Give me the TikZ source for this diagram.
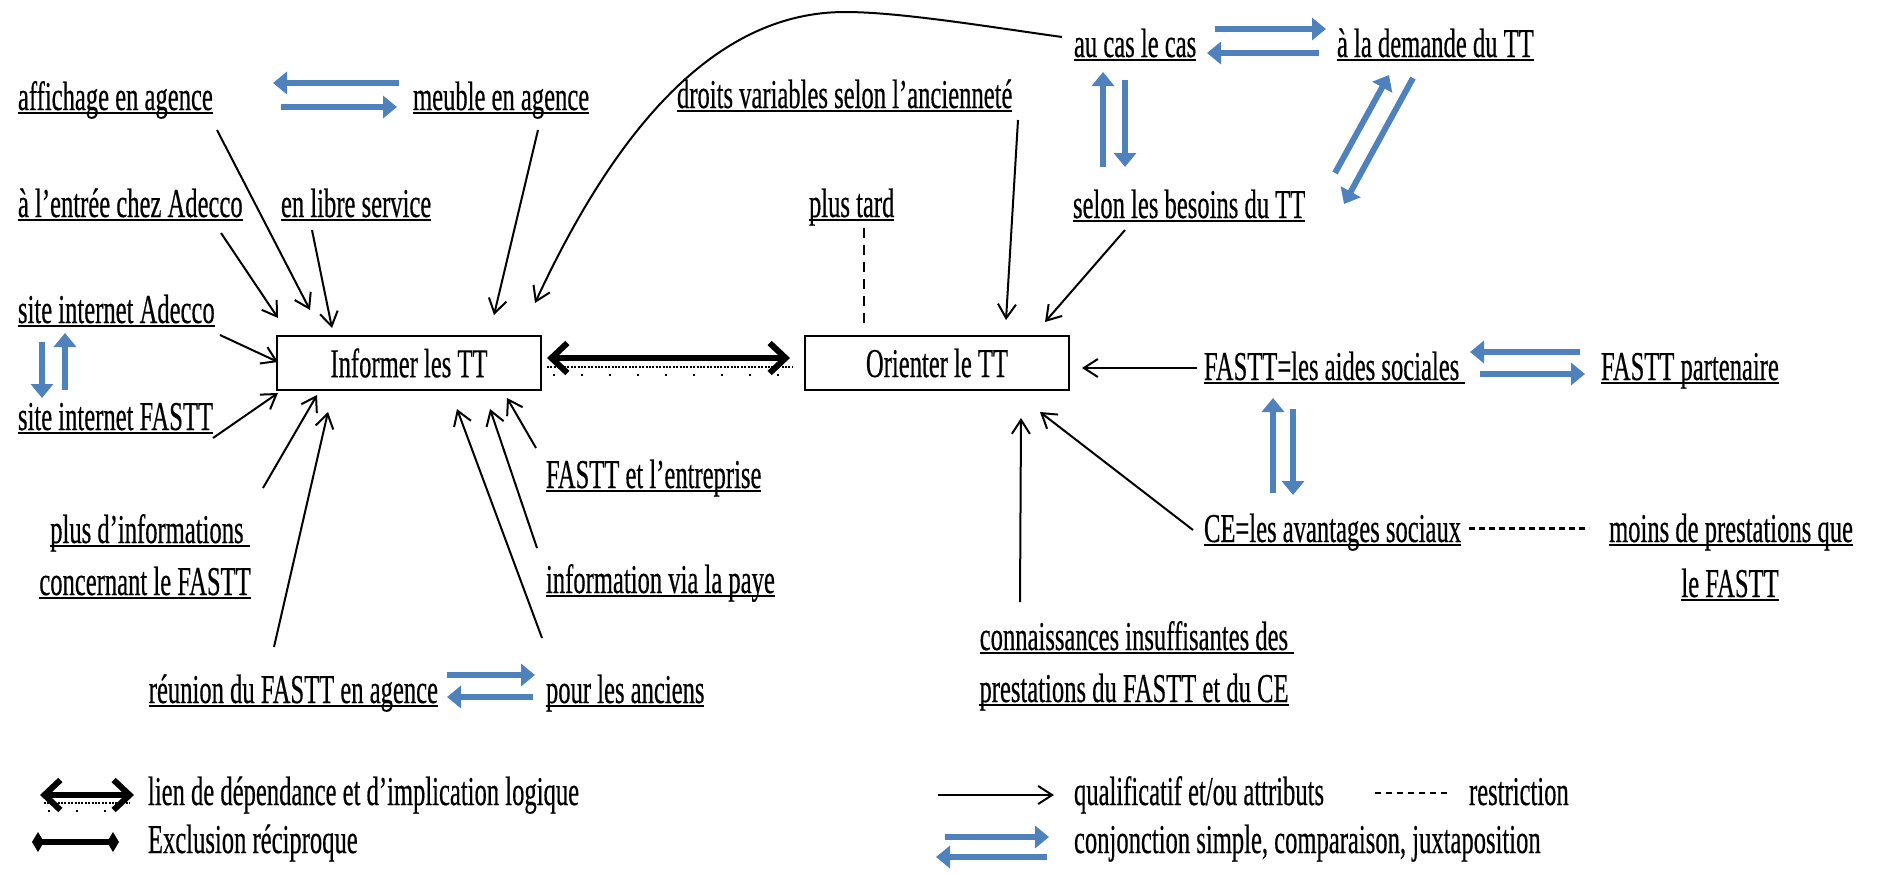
\documentclass[tikz,border=0pt]{standalone}
\usepackage{fontspec}
\setmainfont{Liberation Serif}[FakeStretch=0.6, FakeBold=0.4]
\usetikzlibrary{arrows.meta}
\definecolor{conjblue}{RGB}{79,129,189}
\newcommand{\lblfont}{\fontsize{20.5}{24}\selectfont}
\newcommand{\ulin}[1]{\setbox0=\hbox{#1}\rlap{\rule[-2.2pt]{\wd0}{1.2pt}}\box0}
\tikzset{
  lbl/.style={inner sep=0pt, outer sep=0pt, anchor=base west, font=\lblfont},
  lblc/.style={inner sep=0pt, outer sep=0pt, anchor=base, font=\lblfont},
  lble/.style={inner sep=0pt, outer sep=0pt, anchor=base east, font=\lblfont},
  box/.style={draw, line width=1.2pt, minimum width=132pt, minimum height=27pt, inner sep=0pt, outer sep=0pt, font=\lblfont},
  qual/.style={line width=1pt, -{Straight Barb[length=7pt,width=9pt]}},
  conj/.style={draw=conjblue, line width=3pt, -{Triangle[length=7pt,width=11pt]}},
  restr/.style={line width=0.9pt, dash pattern=on 5pt off 3.5pt},
  restrdot/.style={line width=1.5pt, dash pattern=on 3pt off 2pt},
  dep/.style={line width=3pt, {Straight Barb[length=8pt,width=15pt]}-{Straight Barb[length=8pt,width=15pt]}},
  depdots/.style={line width=1.4pt, dash pattern=on 1pt off 0.7pt},
  deploose/.style={line width=1.2pt, dash pattern=on 1pt off 13pt},
  excl/.style={line width=3pt, {Diamond[length=6pt,width=10pt]}-{Diamond[length=6pt,width=10pt]}},
}
\begin{document}
\begin{tikzpicture}[x=0.5pt,y=-0.5pt]
\useasboundingbox (0,0) rectangle (1878,873);

% ---- nodes ----
\node[lbl] (aff) at (18,110) {\ulin{affichage en agence}};
\node[lbl] (meu) at (413,110) {\ulin{meuble en agence}};
\node[lbl] (dro) at (677,108) {\ulin{droits variables selon l'ancienneté}};
\node[lbl] (auc) at (1074,57) {\ulin{au cas le cas}};
\node[lbl] (dem) at (1337,57) {\ulin{à la demande du TT}};
\node[lbl] (ent) at (18,217) {\ulin{à l'entrée chez Adecco}};
\node[lbl] (lib) at (281,217) {\ulin{en libre service}};
\node[lbl] (tard) at (809,217) {\ulin{plus tard}};
\node[lbl] (bes) at (1073,218) {\ulin{selon les besoins du TT}};
\node[lbl] (sia) at (18,323) {\ulin{site internet Adecco}};
\node[lbl] (sif) at (18,430) {\ulin{site internet FASTT}};
\node[box] (inf) at (409,363) {Informer les TT};
\node[box] (ori) at (937,363) {Orienter le TT};
\node[lbl] (aid) at (1204,380) {\ulin{FASTT=les aides sociales\ }};
\node[lbl] (par) at (1601,380) {\ulin{FASTT partenaire}};
\node[lbl] (ce) at (1204,542) {\ulin{CE=les avantages sociaux}};
\node[lblc] (moiA) at (1731,542) {\ulin{moins de prestations que}};
\node[lblc] (moiB) at (1730,597) {\ulin{le FASTT}};
\node[lblc] (conA) at (1137,650) {\ulin{connaissances insuffisantes des\ }};
\node[lblc] (conB) at (1134,702) {\ulin{prestations du FASTT et du CE}};
\node[lblc] (pluA) at (150,543) {\ulin{plus d'informations\ }};
\node[lblc] (pluB) at (145,595) {\ulin{concernant le FASTT}};
\node[lbl] (ent2) at (546,488) {\ulin{FASTT et l'entreprise}};
\node[lbl] (pay) at (546,593) {\ulin{information via la paye}};
\node[lble] (reu) at (438,703) {\ulin{réunion du FASTT en agence}};
\node[lbl] (anc) at (546,703) {\ulin{pour les anciens}};

% ---- black qualifying arrows into Informer ----
\draw[qual] ([shift={(199,20)}]aff.base west) -- ([shift={(33,-26)}]inf.north west);
\draw[qual] ([shift={(203,16)}]ent.base west) -- ([shift={(1,-18)}]inf.north west);
\draw[qual] ([shift={(31,13)}]lib.base west) -- ([shift={(55,-8)}]inf.north west);
\draw[qual] ([shift={(125,20)}]meu.base west) -- ([shift={(217,-21)}]inf.north west);
\draw[qual] ([shift={(-12,-20)}]auc.base west) .. controls (990,27) and (900,12) .. (845,12)
            .. controls (720,12) and (620,120) .. ([shift={(-6,-33)}]inf.north east);
\draw[qual] ([shift={(202,12)}]sia.base west) -- ([shift={(1,-1)}]inf.west);
\draw[qual] ([shift={(195,8)}]sif.base west) -- ([shift={(1,3)}]inf.south west);
\draw[qual] ([shift={(113,-55)}]pluA.base) -- ([shift={(40,5)}]inf.south west);
\draw[qual] ([shift={(-164,-56)}]reu.base east) -- ([shift={(51,22)}]inf.south west);
\draw[qual] ([shift={(-4,-65)}]anc.base west) -- ([shift={(180,19)}]inf.south west);
\draw[qual] ([shift={(-9,-45)}]pay.base west) -- ([shift={(213,19)}]inf.south west);
\draw[qual] ([shift={(-10,-40)}]ent2.base west) -- ([shift={(230,8)}]inf.south west);

% ---- dependency link ----
\draw[dep] ([shift={(6,-5)}]inf.east) -- ([shift={(-15,-5)}]ori.west);
\draw[depdots] ([shift={(6,4)}]inf.east) -- ([shift={(-12,4)}]ori.west);
\draw[deploose] ([shift={(12,12)}]inf.east) -- ([shift={(-12,12)}]ori.west);

% ---- arrows into Orienter ----
\draw[qual] ([shift={(341,12)}]dro.base west) -- ([shift={(201,-16)}]ori.north west);
\draw[restr] ([shift={(55,11)}]tard.base west) -- ([shift={(59,-11)}]ori.north west);
\draw[qual] ([shift={(52,12)}]bes.base west) -- ([shift={(-24,-14)}]ori.north east);
\draw[qual] ([shift={(-7,-12)}]aid.base west) -- ([shift={(13,5)}]ori.east);
\draw[qual] ([shift={(-11,-12)}]ce.base west) -- ([shift={(-29,22)}]ori.south east);
\draw[qual] ([shift={(-117,-48)}]conA.base) -- ([shift={(-48,28)}]ori.south east);
\draw[restrdot] ([shift={(265,-14)}]ce.base west) -- ([shift={(-142,-14)}]moiA.base);

% ---- blue conjunction arrows ----
\draw[conj] ([shift={(-14,-27)}]meu.base west) -- ([shift={(255,-27)}]aff.base west);
\draw[conj] ([shift={(263,-3)}]aff.base west) -- ([shift={(-16,-3)}]meu.base west);
\draw[conj] ([shift={(141,-28)}]auc.base west) -- ([shift={(-11,-28)}]dem.base west);
\draw[conj] ([shift={(-18,-4)}]dem.base west) -- ([shift={(133,-4)}]auc.base west);
\draw[conj] ([shift={(30,-51)}]bes.base west) -- ([shift={(29,15)}]auc.base west);
\draw[conj] ([shift={(51,23)}]auc.base west) -- ([shift={(52,-51)}]bes.base west);
\draw[conj] ([shift={(262,-45)}]bes.base west) -- ([shift={(52,18)}]dem.base west);
\draw[conj] ([shift={(76,21)}]dem.base west) -- ([shift={(271,-14)}]bes.base west);
\draw[conj] ([shift={(24,19)}]sia.base west) -- ([shift={(24,-32)}]sif.base west);
\draw[conj] ([shift={(47,-40)}]sif.base west) -- ([shift={(47,10)}]sia.base west);
\draw[conj] ([shift={(-21,-28)}]par.base west) -- ([shift={(266,-28)}]aid.base west);
\draw[conj] ([shift={(276,-6)}]aid.base west) -- ([shift={(-16,-6)}]par.base west);
\draw[conj] ([shift={(69,-49)}]ce.base west) -- ([shift={(69,18)}]aid.base west);
\draw[conj] ([shift={(89,29)}]aid.base west) -- ([shift={(89,-47)}]ce.base west);
\draw[conj] ([shift={(9,-28)}]reu.base east) -- ([shift={(-11,-28)}]anc.base west);
\draw[conj] ([shift={(-13,-6)}]anc.base west) -- ([shift={(9,-6)}]reu.base east);

% ---- legend ----
\node[lbl] (lg1) at (148,805) {lien de dépendance et d'implication logique};
\node[lbl] (lg2) at (148,853) {Exclusion réciproque};
\node[lbl] (lg3) at (1074,805) {qualificatif et/ou attributs};
\node[lbl] (lg4) at (1469,805) {restriction};
\node[lbl] (lg5) at (1074,853) {conjonction simple, comparaison, juxtaposition};

\draw[dep] ([shift={(-108,-10)}]lg1.base west) -- ([shift={(-14,-10)}]lg1.base west);
\draw[depdots] ([shift={(-104,-2)}]lg1.base west) -- ([shift={(-18,-2)}]lg1.base west);
\draw[deploose] ([shift={(-100,6)}]lg1.base west) -- ([shift={(-18,6)}]lg1.base west);
\draw[excl] ([shift={(-116,-11)}]lg2.base west) -- ([shift={(-29,-11)}]lg2.base west);
\draw[qual] ([shift={(-136,-10)}]lg3.base west) -- ([shift={(-20,-10)}]lg3.base west);
\draw[line width=1pt, dash pattern=on 3pt off 2.5pt] ([shift={(-94,-12)}]lg4.base west) -- ([shift={(-18,-12)}]lg4.base west);
\draw[conj] ([shift={(-129,-16)}]lg5.base west) -- ([shift={(-25,-16)}]lg5.base west);
\draw[conj] ([shift={(-27,4)}]lg5.base west) -- ([shift={(-138,4)}]lg5.base west);
\end{tikzpicture}
\end{document}
